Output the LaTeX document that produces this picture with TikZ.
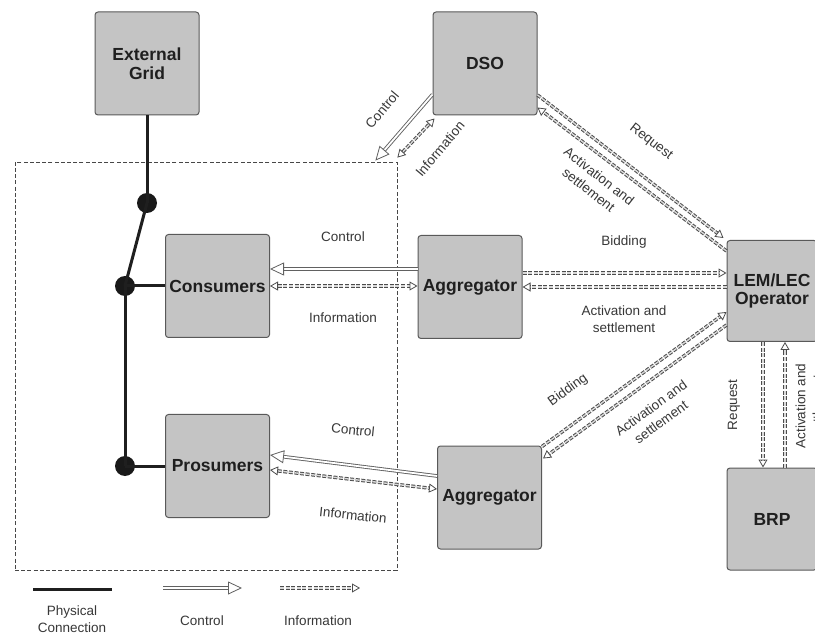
\documentclass[tikz,border=0pt]{standalone}
\usepackage{fontspec}
\setmainfont{Liberation Sans}
\usetikzlibrary{arrows.meta,calc}
\begin{document}
\begin{tikzpicture}[x=1pt,y=-1pt,
  box/.style={draw=black!65, line width=1pt, fill=black!23, rounded corners=3pt,
    minimum width=104pt, minimum height=103pt, inner sep=0pt, align=center,
    text=black!88, font=\bfseries\fontsize{17.5}{18.5}\selectfont},
  lbl/.style={font=\fontsize{13.5}{17}\selectfont, text=black!78, align=center, inner sep=1pt},
  phys/.style={line width=3pt, draw=black!88},
  pdot/.style={circle, fill=black!90, minimum size=20pt, inner sep=0pt},
  ctrl/.style={draw=black!62, line width=0.9pt, double=white, double distance=1.8pt,
    -{Triangle[open, length=14pt, width=13pt, line width=0.8pt]}},
  infoln/.style={draw=black!70, line width=1pt, double=white!85!black, double distance=1.4pt,
    dash pattern=on 4pt off 1.6pt},
  itip/.tip={Triangle[open, length=8pt, width=9pt, line width=0.8pt]},
  area/.style={draw=black!72, line width=0.8pt, dash pattern=on 4pt off 2.2pt}
]
\useasboundingbox[fill=white] (0,0) rectangle (815,639);

% boxes
\node[box] (ext) at (147,63.5) {External\\Grid};
\node[box] (dso) at (485,63.5) {DSO};
\node[box] (cons) at (217.5,286) {Consumers};
\node[box] (agg1) at (470,287) {Aggregator};
\node[box] (pros) at (217.5,466) {Prosumers};
\node[box] (agg2) at (489.5,497.5) {Aggregator};
\node[box, minimum width=90pt, minimum height=101pt] (lem) at (772,291) {LEM/LEC\\Operator};
\node[box, minimum width=90pt, minimum height=102pt] (brp) at (772,519) {BRP};

% dashed boundary
\node[area, minimum width=382pt, minimum height=408pt, inner sep=0pt] (zone) at (206,366) {};

% physical connections
\node[pdot] (d1) at (147,203) {};
\node[pdot] (d2) at (125,286) {};
\node[pdot] (d3) at (125,466) {};
\draw[phys] (ext.south) -- (d1.center);
\draw[phys] (d1.center) -- (d2.center);
\draw[phys] (d2.center) -- (cons.west);
\draw[phys] (d2.center) -- (d3.center);
\draw[phys] (d3.center) -- (pros.west);

% DSO -> zone
\draw[ctrl] ($(dso.south west)+(0,-21)$) -- ($(zone.north east)+(-22,-1)$);
\draw[infoln, itip-itip] ($(zone.north east)+(0,-4)$) -- ($(dso.south west)+(2,3)$);

% DSO <-> LEM
\draw[infoln, -itip] ($(dso.east)+(0,31.5)$) -- ($(lem.north west)+(-3,-2)$);
\draw[infoln, -itip] ($(lem.north west)+(0,11)$) -- ($(dso.east)+(0,44)$);

% Aggregator 1
\draw[ctrl] ($(agg1.west)+(0,-18)$) -- ($(cons.east)+(0,-17)$);
\draw[infoln, itip-itip] (cons.east) -- ($(agg1.west)+(0,-1)$);
\draw[infoln, -itip] ($(agg1.east)+(0,-14)$) -- ($(lem.west)+(0,-18)$);
\draw[infoln, -itip] ($(lem.west)+(0,-4)$) -- ($(agg1.east)+(0,0)$);

% Aggregator 2
\draw[ctrl] ($(agg2.west)+(0,-21.5)$) -- ($(pros.east)+(0,-11)$);
\draw[infoln, itip-itip] ($(pros.east)+(0,4)$) -- ($(agg2.west)+(0,-8.5)$);
\draw[infoln, -itip] ($(agg2.north east)+(0,1)$) -- ($(lem.west)+(0,21)$);
\draw[infoln, -itip] ($(lem.west)+(0,34)$) -- ($(agg2.north east)+(1,13)$);

% LEM <-> BRP
\draw[infoln, -itip] ($(lem.south)+(-9,0)$) -- ($(brp.north)+(-9,0)$);
\draw[infoln, -itip] ($(brp.north)+(13,0)$) -- ($(lem.south)+(13,0)$);

% labels
\node[lbl, rotate=50] (l1) at (382,110) {Control};
\node[lbl, rotate=50] (l2) at (440,149) {Information};
\node[lbl, rotate=-38] (l3) at (651,142) {Request};
\node[lbl, rotate=-38] (l4) at (594,183) {Activation and\\settlement};
\node[lbl] (l5) at (624,242) {Bidding};
\node[lbl] (l6) at (624,319) {Activation and\\settlement};
\node[lbl] (l7) at (343,237) {Control};
\node[lbl] (l8) at (343,318) {Information};
\node[lbl, rotate=-6] (l9) at (353,430) {Control};
\node[lbl, rotate=-6] (l10) at (353,515) {Information};
\node[lbl, rotate=36] (l11) at (568,390) {Bidding};
\node[lbl, rotate=36] (l12) at (656,415) {Activation and\\settlement};
\node[lbl, rotate=90] (l13) at (734,405) {Request};
\node[lbl, rotate=90] (l14) at (809,406) {Activation and\\settlement};

% legend
\coordinate (p1) at (33,589);
\coordinate (p2) at (112,589);
\coordinate (c1) at (163,588);
\coordinate (c2) at (242,588);
\coordinate (i1) at (280,588);
\coordinate (i2) at (360,588);
\draw[phys] (p1) -- (p2);
\draw[ctrl] (c1) -- (c2);
\draw[infoln, -itip] (i1) -- (i2);
\node[lbl] (g1) at (72,619) {Physical\\Connection};
\node[lbl] (g2) at (202,621) {Control};
\node[lbl] (g3) at (318,621) {Information};
\end{tikzpicture}
\end{document}
